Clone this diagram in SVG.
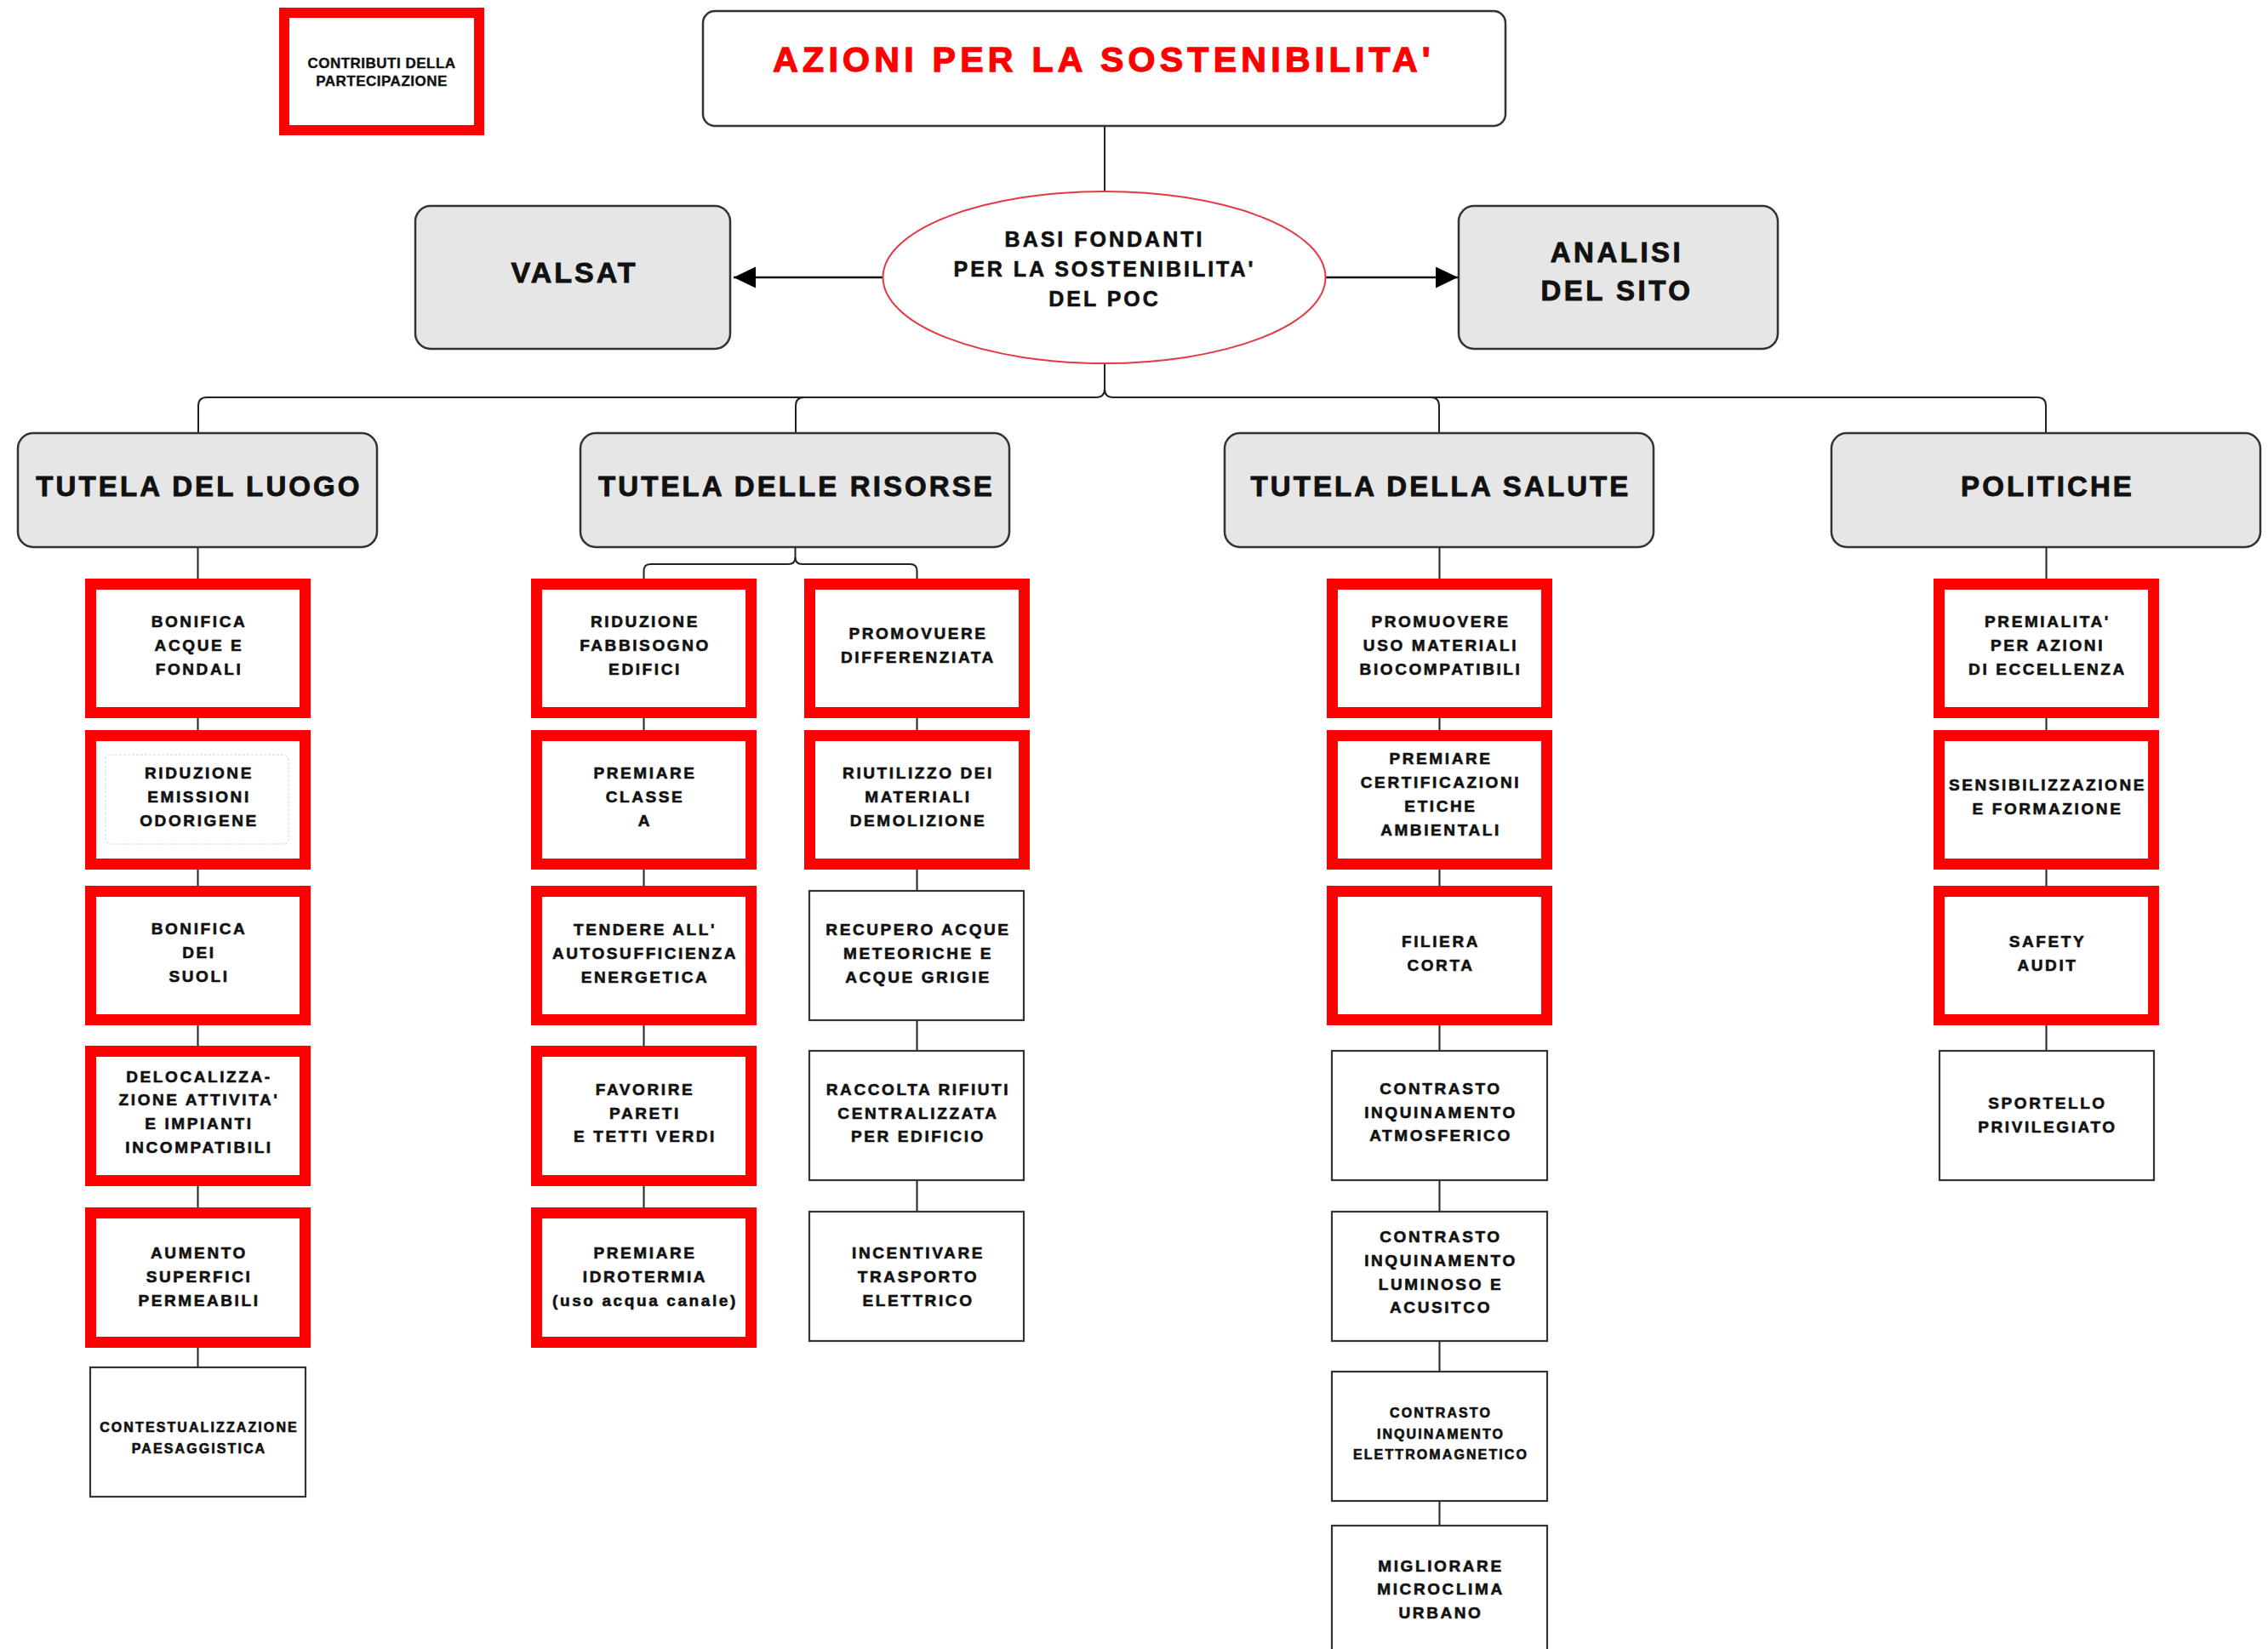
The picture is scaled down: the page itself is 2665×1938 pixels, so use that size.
<svg xmlns="http://www.w3.org/2000/svg" width="2665" height="1938" viewBox="0 0 2665 1938">
<style>
.t{font-family:"Liberation Sans",Arial,Helvetica,sans-serif;font-weight:bold;text-anchor:middle;fill:#111;stroke:#111;stroke-width:0.6px}
.s19{font-size:19px;letter-spacing:2.6px}
.s16{font-size:16px;letter-spacing:2.1px}
.cat{font-size:33px;letter-spacing:3.1px;stroke-width:0.9px}
.red{fill:#fff;stroke:#ff0000;stroke-width:13}
.plain{fill:#fff;stroke:#333;stroke-width:2.2}
.gray{fill:#e6e6e6;stroke:#333;stroke-width:2.5}
.conn{fill:none;stroke:#222;stroke-width:2}
.arr{fill:none;stroke:#111;stroke-width:2.5}
</style>
<defs>
<marker id="ah" markerUnits="userSpaceOnUse" markerWidth="27" markerHeight="26" refX="26" refY="12.5" orient="auto">
<path d="M0,0 L26,12.5 L0,25 z" fill="#000"/>
</marker>
</defs>
<rect x="0" y="0" width="2665" height="1938" fill="#fff"/>

<g id="connectors">
<path class="conn" d="M1298,148 V226"/>
<path class="arr" d="M1037,326 H862" marker-end="url(#ah)"/>
<path class="arr" d="M1558,326 H1713" marker-end="url(#ah)"/>
<path class="conn" d="M1298,427 V457 Q1298,467 1288,467 H243 Q233,467 233,477 V510"/>
<path class="conn" d="M1298,457 Q1298,467 1308,467 H2394 Q2404,467 2404,477 V510"/>
<path class="conn" d="M945,467 Q935,467 935,477 V510"/>
<path class="conn" d="M1681,467 Q1691,467 1691,477 V510"/>
<path class="conn" d="M934.5,643 V655 Q934.5,663 926.5,663 H764.5 Q756.5,663 756.5,671 V680"/>
<path class="conn" d="M934.5,655 Q934.5,663 942.5,663 H1069.5 Q1077.5,663 1077.5,671 V680"/>
<path class="conn" d="M232.5,643 V1607"/>
<path class="conn" d="M756.5,680 V1425"/>
<path class="conn" d="M1077.5,680 V1424"/>
<path class="conn" d="M1691.5,643 V1793"/>
<path class="conn" d="M2404.5,643 V1235"/>
</g>

<g id="legend">
<rect x="334" y="15" width="229" height="138" fill="#fff" stroke="#ff0000" stroke-width="12"/>
<text class="t" x="448.5" y="80" style="font-size:17px;letter-spacing:0.5px;stroke-width:0.4px">CONTRIBUTI DELLA</text>
<text class="t" x="448.5" y="101" style="font-size:17px;letter-spacing:0.5px;stroke-width:0.4px">PARTECIPAZIONE</text>
</g>

<g id="title">
<rect x="826" y="13" width="943" height="135" rx="14" fill="#fff" stroke="#333" stroke-width="2.5"/>
<text class="t" x="1297" y="84" style="font-size:41px;letter-spacing:5.3px;fill:#ff0000;stroke:#ff0000;stroke-width:1.3px">AZIONI PER LA SOSTENIBILITA'</text>
</g>

<g id="basi">
<ellipse cx="1297.5" cy="326" rx="260" ry="101" fill="#fff" stroke="#e53945" stroke-width="2"/>
<text class="t" x="1298" y="290" style="font-size:25px;letter-spacing:3px">BASI FONDANTI</text>
<text class="t" x="1298" y="325" style="font-size:25px;letter-spacing:3px">PER LA SOSTENIBILITA'</text>
<text class="t" x="1298" y="360" style="font-size:25px;letter-spacing:3px">DEL POC</text>
</g>

<g id="valsat">
<rect class="gray" x="488" y="242" width="370" height="168" rx="18"/>
<text class="t" x="675" y="332" style="font-size:34px;letter-spacing:3px;stroke-width:0.9px">VALSAT</text>
</g>

<g id="analisi">
<rect class="gray" x="1714" y="242" width="375" height="168" rx="18"/>
<text class="t" x="1900" y="308" style="font-size:33px;letter-spacing:3.5px;stroke-width:0.9px">ANALISI</text>
<text class="t" x="1900" y="353" style="font-size:33px;letter-spacing:3.5px;stroke-width:0.9px">DEL SITO</text>
</g>

<g id="cat-luogo">
<rect class="gray" x="21" y="509" width="422" height="134" rx="18"/>
<text class="t cat" x="234" y="583">TUTELA DEL LUOGO</text>
</g>
<g id="cat-risorse">
<rect class="gray" x="682" y="509" width="504" height="134" rx="18"/>
<text class="t cat" x="936" y="583">TUTELA DELLE RISORSE</text>
</g>
<g id="cat-salute">
<rect class="gray" x="1439" y="509" width="504" height="134" rx="18"/>
<text class="t cat" x="1693" y="583">TUTELA DELLA SALUTE</text>
</g>
<g id="cat-politiche">
<rect class="gray" x="2152" y="509" width="504" height="134" rx="18"/>
<text class="t cat" x="2406" y="583">POLITICHE</text>
</g>

<!-- Column 1 -->
<g id="l1">
<rect class="red" x="106.5" y="686.5" width="252" height="151"/>
<text class="t s19" x="234" y="737">BONIFICA</text>
<text class="t s19" x="234" y="765">ACQUE E</text>
<text class="t s19" x="234" y="793">FONDALI</text>
</g>
<g id="l2">
<rect class="red" x="106.5" y="864.5" width="252" height="151"/>
<rect x="124" y="887" width="215" height="105" rx="6" fill="none" stroke="#c8eef5" stroke-width="1.5" stroke-dasharray="3 2"/>
<text class="t s19" x="234" y="915">RIDUZIONE</text>
<text class="t s19" x="234" y="943">EMISSIONI</text>
<text class="t s19" x="234" y="971">ODORIGENE</text>
</g>
<g id="l3">
<rect class="red" x="106.5" y="1047.5" width="252" height="151"/>
<text class="t s19" x="234" y="1098">BONIFICA</text>
<text class="t s19" x="234" y="1126">DEI</text>
<text class="t s19" x="234" y="1154">SUOLI</text>
</g>
<g id="l4">
<rect class="red" x="106.5" y="1235.5" width="252" height="152"/>
<text class="t s19" x="234" y="1272">DELOCALIZZA-</text>
<text class="t s19" x="234" y="1299">ZIONE ATTIVITA'</text>
<text class="t s19" x="234" y="1327">E IMPIANTI</text>
<text class="t s19" x="234" y="1355">INCOMPATIBILI</text>
</g>
<g id="l5">
<rect class="red" x="106.5" y="1425.5" width="252" height="152"/>
<text class="t s19" x="234" y="1479">AUMENTO</text>
<text class="t s19" x="234" y="1507">SUPERFICI</text>
<text class="t s19" x="234" y="1535">PERMEABILI</text>
</g>
<g id="l6">
<rect class="plain" x="106" y="1607" width="253" height="152"/>
<text class="t s16" x="234" y="1683">CONTESTUALIZZAZIONE</text>
<text class="t s16" x="234" y="1708">PAESAGGISTICA</text>
</g>

<!-- Column 2a -->
<g id="r1">
<rect class="red" x="630.5" y="686.5" width="252" height="151"/>
<text class="t s19" x="758" y="737">RIDUZIONE</text>
<text class="t s19" x="758" y="765">FABBISOGNO</text>
<text class="t s19" x="758" y="793">EDIFICI</text>
</g>
<g id="r2">
<rect class="red" x="630.5" y="864.5" width="252" height="151"/>
<text class="t s19" x="758" y="915">PREMIARE</text>
<text class="t s19" x="758" y="943">CLASSE</text>
<text class="t s19" x="758" y="971">A</text>
</g>
<g id="r3">
<rect class="red" x="630.5" y="1047.5" width="252" height="151"/>
<text class="t s19" x="758" y="1099">TENDERE ALL'</text>
<text class="t s19" x="758" y="1127">AUTOSUFFICIENZA</text>
<text class="t s19" x="758" y="1155">ENERGETICA</text>
</g>
<g id="r4">
<rect class="red" x="630.5" y="1235.5" width="252" height="152"/>
<text class="t s19" x="758" y="1287">FAVORIRE</text>
<text class="t s19" x="758" y="1315">PARETI</text>
<text class="t s19" x="758" y="1342">E TETTI VERDI</text>
</g>
<g id="r5">
<rect class="red" x="630.5" y="1425.5" width="252" height="152"/>
<text class="t s19" x="758" y="1479">PREMIARE</text>
<text class="t s19" x="758" y="1507">IDROTERMIA</text>
<text class="t s19" x="758" y="1535">(uso acqua canale)</text>
</g>

<!-- Column 2b -->
<g id="r6">
<rect class="red" x="951.5" y="686.5" width="252" height="151"/>
<text class="t s19" x="1079" y="751">PROMOVUERE</text>
<text class="t s19" x="1079" y="779">DIFFERENZIATA</text>
</g>
<g id="r7">
<rect class="red" x="951.5" y="864.5" width="252" height="151"/>
<text class="t s19" x="1079" y="915">RIUTILIZZO DEI</text>
<text class="t s19" x="1079" y="943">MATERIALI</text>
<text class="t s19" x="1079" y="971">DEMOLIZIONE</text>
</g>
<g id="r8">
<rect class="plain" x="951" y="1047" width="252" height="152"/>
<text class="t s19" x="1079" y="1099">RECUPERO ACQUE</text>
<text class="t s19" x="1079" y="1127">METEORICHE E</text>
<text class="t s19" x="1079" y="1155">ACQUE GRIGIE</text>
</g>
<g id="r9">
<rect class="plain" x="951" y="1235" width="252" height="152"/>
<text class="t s19" x="1079" y="1287">RACCOLTA RIFIUTI</text>
<text class="t s19" x="1079" y="1315">CENTRALIZZATA</text>
<text class="t s19" x="1079" y="1342">PER EDIFICIO</text>
</g>
<g id="r10">
<rect class="plain" x="951" y="1424" width="252" height="152"/>
<text class="t s19" x="1079" y="1479">INCENTIVARE</text>
<text class="t s19" x="1079" y="1507">TRASPORTO</text>
<text class="t s19" x="1079" y="1535">ELETTRICO</text>
</g>

<!-- Column 3 -->
<g id="s1">
<rect class="red" x="1565.5" y="686.5" width="252" height="151"/>
<text class="t s19" x="1693" y="737">PROMUOVERE</text>
<text class="t s19" x="1693" y="765">USO MATERIALI</text>
<text class="t s19" x="1693" y="793">BIOCOMPATIBILI</text>
</g>
<g id="s2">
<rect class="red" x="1565.5" y="864.5" width="252" height="151"/>
<text class="t s19" x="1693" y="898">PREMIARE</text>
<text class="t s19" x="1693" y="926">CERTIFICAZIONI</text>
<text class="t s19" x="1693" y="954">ETICHE</text>
<text class="t s19" x="1693" y="982">AMBIENTALI</text>
</g>
<g id="s3">
<rect class="red" x="1565.5" y="1047.5" width="252" height="151"/>
<text class="t s19" x="1693" y="1113">FILIERA</text>
<text class="t s19" x="1693" y="1141">CORTA</text>
</g>
<g id="s4">
<rect class="plain" x="1565" y="1235" width="253" height="152"/>
<text class="t s19" x="1693" y="1286">CONTRASTO</text>
<text class="t s19" x="1693" y="1314">INQUINAMENTO</text>
<text class="t s19" x="1693" y="1341">ATMOSFERICO</text>
</g>
<g id="s5">
<rect class="plain" x="1565" y="1424" width="253" height="152"/>
<text class="t s19" x="1693" y="1460">CONTRASTO</text>
<text class="t s19" x="1693" y="1488">INQUINAMENTO</text>
<text class="t s19" x="1693" y="1516">LUMINOSO E</text>
<text class="t s19" x="1693" y="1543">ACUSITCO</text>
</g>
<g id="s6">
<rect class="plain" x="1565" y="1612" width="253" height="152"/>
<text class="t s16" x="1693" y="1666">CONTRASTO</text>
<text class="t s16" x="1693" y="1691">INQUINAMENTO</text>
<text class="t s16" x="1693" y="1715">ELETTROMAGNETICO</text>
</g>
<g id="s7">
<rect class="plain" x="1565" y="1793" width="253" height="152"/>
<text class="t s19" x="1693" y="1847">MIGLIORARE</text>
<text class="t s19" x="1693" y="1874">MICROCLIMA</text>
<text class="t s19" x="1693" y="1902">URBANO</text>
</g>

<!-- Column 4 -->
<g id="p1">
<rect class="red" x="2278.5" y="686.5" width="252" height="151"/>
<text class="t s19" x="2406" y="737">PREMIALITA'</text>
<text class="t s19" x="2406" y="765">PER AZIONI</text>
<text class="t s19" x="2406" y="793">DI ECCELLENZA</text>
</g>
<g id="p2">
<rect class="red" x="2278.5" y="864.5" width="252" height="151"/>
<text class="t s19" x="2406" y="929">SENSIBILIZZAZIONE</text>
<text class="t s19" x="2406" y="957">E FORMAZIONE</text>
</g>
<g id="p3">
<rect class="red" x="2278.5" y="1047.5" width="252" height="151"/>
<text class="t s19" x="2406" y="1113">SAFETY</text>
<text class="t s19" x="2406" y="1141">AUDIT</text>
</g>
<g id="p4">
<rect class="plain" x="2279" y="1235" width="252" height="152"/>
<text class="t s19" x="2406" y="1303">SPORTELLO</text>
<text class="t s19" x="2406" y="1331">PRIVILEGIATO</text>
</g>
</svg>
